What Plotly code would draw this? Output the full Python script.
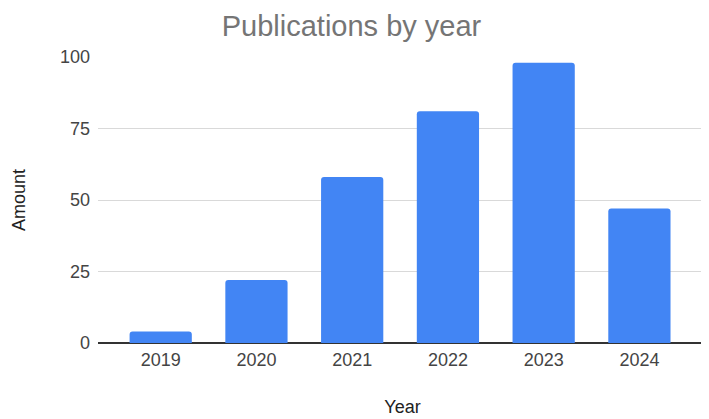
import plotly.graph_objects as go

years = ["2019", "2020", "2021", "2022", "2023", "2024"]
amounts = [4, 22, 58, 81, 98, 47]
y_ticks = [0, 25, 50, 75, 100]

fig = go.Figure()
fig.add_trace(
    go.Bar(
        x=years,
        y=amounts,
        marker=dict(color="#4285F4", cornerradius=3, line=dict(width=0)),
    )
)

# the page has an 8px body margin, so margins are shifted by that amount
fig.update_layout(
    width=709,
    height=419,
    paper_bgcolor="white",
    plot_bgcolor="white",
    font=dict(family="Liberation Sans, Arial, sans-serif", size=18, color="#444444"),
    title=dict(
        text="Publications by year",
        x=0.4845,
        xanchor="center",
        y=1,
        yanchor="top",
        pad=dict(t=8, b=0),
        font=dict(size=29, color="#757575"),
    ),
    margin=dict(l=82, r=10, t=49, b=84),
    bargap=0.35,
    showlegend=False,
)
fig.update_xaxes(
    type="category",
    range=[-0.655, 5.706],
    title=dict(text="Year", font=dict(size=18, color="#222222"), standoff=31),
    showgrid=False,
    ticks="",
    showline=False,
    ticklabelstandoff=4,
)
fig.update_yaxes(
    range=[0, 100],
    tickvals=y_ticks,
    title=dict(text="Amount", font=dict(size=18, color="#222222"), standoff=29),
    showgrid=True,
    gridcolor="#D9D9D9",
    gridwidth=1,
    zeroline=True,
    zerolinecolor="#333333",
    zerolinewidth=1.5,
    ticks="",
    ticklabelstandoff=7,
)

fig.write_html("out.html")
